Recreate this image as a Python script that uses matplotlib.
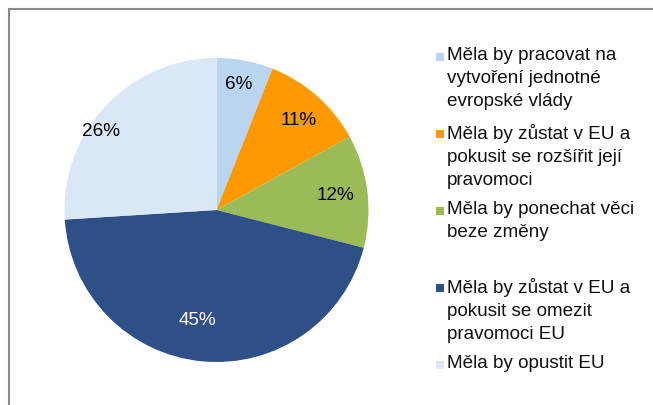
import matplotlib.pyplot as plt
from matplotlib.patches import Rectangle
import numpy as np

plt.rcParams['font.family'] = ['Liberation Sans', 'DejaVu Sans']

# data
labels = ['Měla by pracovat na\nvytvoření jednotné\nevropské vlády',
          'Měla by zůstat v EU a\npokusit se rozšířit její\npravomoci',
          'Měla by ponechat věci\nbeze změny',
          'Měla by zůstat v EU a\npokusit se omezit\npravomoci EU',
          'Měla by opustit EU']
values = [6, 11, 12, 45, 26]
colors = ['#B9D5F0', '#FF9900', '#9BBB59', '#2F4F87', '#DAE7F6']
pct_colors = ['#000000', '#000000', '#000000', '#FFFFFF', '#000000']

W, H = 653, 405
fig = plt.figure(figsize=(W / 100, H / 100), dpi=100)

# outer frame (cut at right/bottom)
fig.add_artist(Rectangle((8.5 / W, -0.1), 1.2, 1 - 8.5 / H + 0.1,
                         transform=fig.transFigure, fill=False,
                         edgecolor='#8a8a8a', linewidth=1.5))

# pie axes: centre (216.5, 210), radius 152 px
cx, cy, r = 216.5, 210, 152
ax = fig.add_axes([(cx - r) / W, (H - cy - r) / H, 2 * r / W, 2 * r / H])
wedges, texts, autotexts = ax.pie(values, colors=colors, startangle=90,
                                  counterclock=False, autopct='%d%%',
                                  pctdistance=0.8,
                                  wedgeprops=dict(linewidth=0),
                                  textprops=dict(fontsize=13.6))
ax.set_xlim(-1, 1)
ax.set_ylim(-1, 1)
ax.set_aspect('equal')

# nudge labels like the original best-fit placement
dist = [0.84, 0.80, 0.79, 0.74, 0.92]
dang = [1, -1, -0.5, -4.5, 9]
for t, w, d, da, c in zip(autotexts, wedges, dist, dang, pct_colors):
    a = np.deg2rad((w.theta1 + w.theta2) / 2 + da)
    t.set_position((d * np.cos(a), d * np.sin(a)))
    t.set_color(c)

# legend drawn by hand: marker at first line, one 3-line slot per entry
y0, step = 56.5, 77.0
for i, (lab, col) in enumerate(zip(labels, colors)):
    yc = y0 + step * i
    fig.add_artist(Rectangle((436 / W, 1 - (yc + 4) / H), 8 / W, 8 / H,
                             transform=fig.transFigure, facecolor=col,
                             edgecolor='none'))
    fig.text(447 / W, 1 - (yc - 9.5) / H, lab, fontsize=13.6, color='#111111',
             va='top', ha='left', linespacing=1.45)

fig.savefig('out.png', dpi=100)
